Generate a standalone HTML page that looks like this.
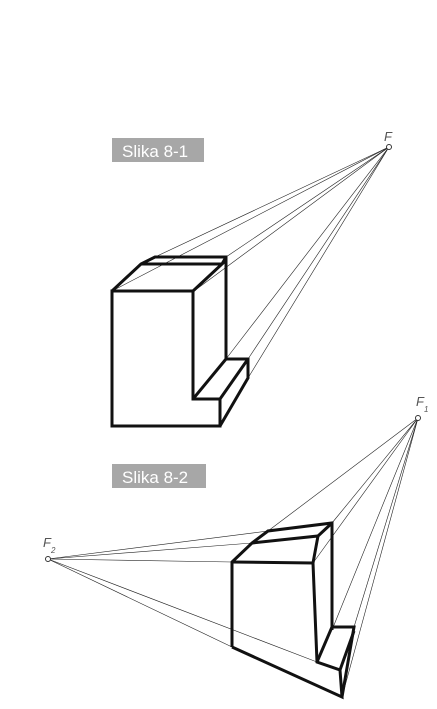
<!DOCTYPE html>
<html><head><meta charset="utf-8"><style>
body{margin:0;background:#fff}
svg{display:block}
.lab{font-family:"Liberation Sans",sans-serif;font-size:17px;fill:#fff}
.f{font-family:"Liberation Sans",sans-serif;font-style:italic;font-size:13px;fill:#555}
</style></head><body>
<svg width="437" height="709" viewBox="0 0 437 709">
<g>
<rect x="112" y="138" width="92" height="24" fill="#a7a7a7"/>
<text x="122" y="157" class="lab">Slika 8-1</text>
<text x="384" y="141" class="f">F</text>
<g stroke="#222" stroke-width="0.6" fill="none">
<line x1="389" y1="147" x2="112" y2="291"/><line x1="389" y1="147" x2="155" y2="257"/>
<line x1="389" y1="147" x2="226" y2="257"/><line x1="389" y1="147" x2="194" y2="291"/>
<line x1="389" y1="147" x2="226" y2="359"/><line x1="389" y1="147" x2="248" y2="359"/>
<line x1="389" y1="147" x2="248" y2="378"/>
</g>
<g stroke="#111" stroke-width="3" fill="none" stroke-linejoin="miter">
<polygon points="112,291 193,291 193,399 220,399 220,426 112,426"/>
<polyline points="112,291 141,264 155,257 226,257 226,359 248,359 248,378 220,426"/>
<polyline points="141,264 222,264 193,291"/>
<line x1="222" y1="264" x2="226" y2="257"/>
<polyline points="193,399 226,359"/>
<polyline points="220,399 248,359"/>
</g>
<circle cx="389" cy="147" r="2.5" fill="#fff" stroke="#333"/>
</g>
<g>
<rect x="112" y="464" width="94" height="24" fill="#a7a7a7"/>
<text x="122" y="483" class="lab">Slika 8-2</text>
<text x="416" y="406" class="f">F</text>
<text x="424" y="412" class="f" style="font-size:8px">1</text>
<text x="43" y="547" class="f">F</text>
<text x="51" y="553" class="f" style="font-size:8px">2</text>
<g stroke="#222" stroke-width="0.6" fill="none">
<line x1="418" y1="418" x2="268" y2="531"/><line x1="418" y1="418" x2="332" y2="523"/>
<line x1="418" y1="418" x2="313" y2="563"/><line x1="418" y1="418" x2="332" y2="630"/>
<line x1="418" y1="418" x2="354" y2="627"/><line x1="418" y1="418" x2="342" y2="697"/>
<line x1="48" y1="559" x2="268" y2="531"/><line x1="48" y1="559" x2="252" y2="543"/>
<line x1="48" y1="559" x2="232" y2="562"/><line x1="48" y1="559" x2="317" y2="662"/>
<line x1="48" y1="559" x2="232" y2="647"/>
</g>
<g stroke="#111" stroke-width="3" fill="none">
<polyline points="232,647 232,562 252,543 268,531 332,523 332,630"/>
<polyline points="252,543 318,536 313,563 232,562"/>
<line x1="318" y1="536" x2="332" y2="523"/>
<polyline points="313,563 317,662 340,670 342,697 232,647"/>
<polyline points="332,627 354,627 342,697"/>
<line x1="317" y1="662" x2="332" y2="627"/>
<line x1="340" y1="670" x2="354" y2="631"/>
</g>
<circle cx="418" cy="418" r="2.5" fill="#fff" stroke="#333"/>
<circle cx="48" cy="559" r="2.5" fill="#fff" stroke="#333"/>
</g>
</svg>
</body></html>
